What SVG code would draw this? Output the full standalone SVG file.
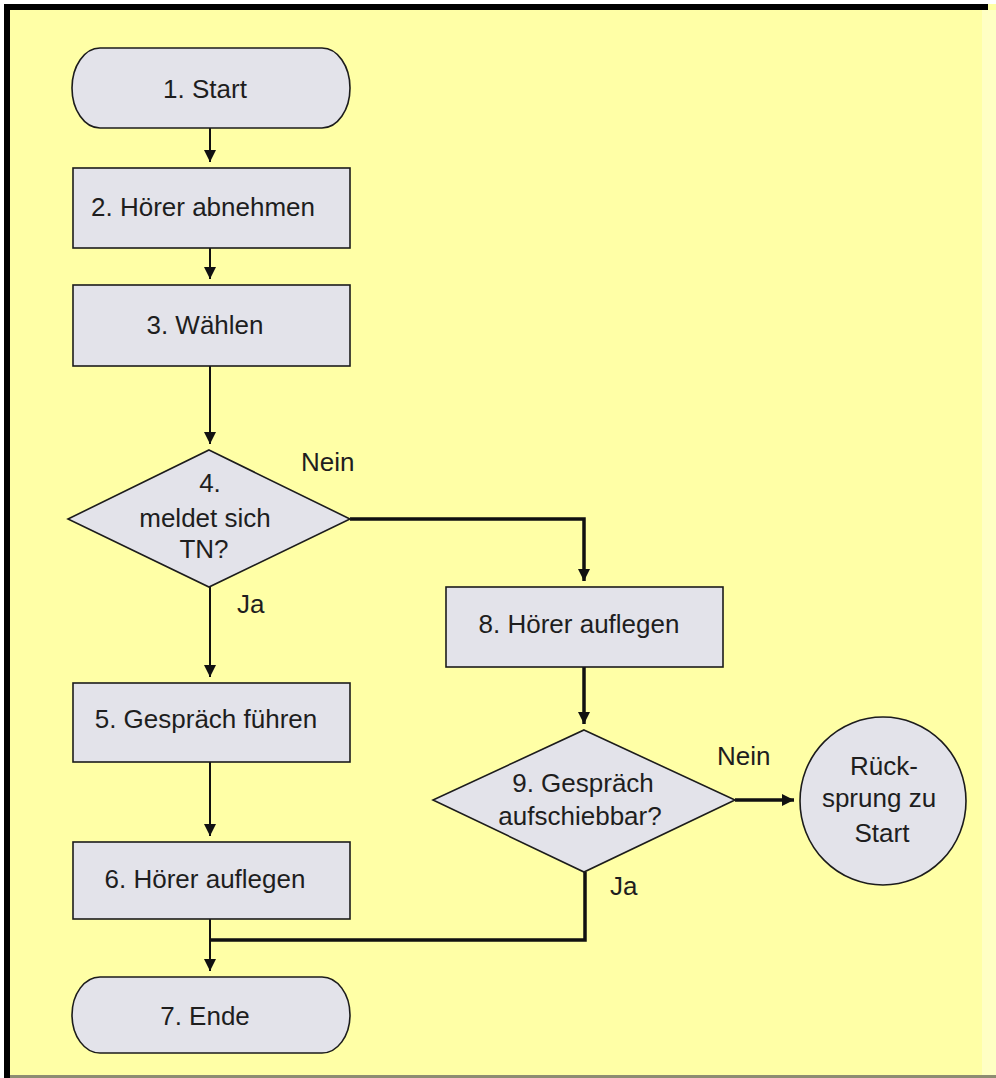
<svg xmlns="http://www.w3.org/2000/svg" width="996" height="1078" viewBox="0 0 996 1078">
  <style>
    .shape { fill: #e3e3ea; stroke: #1c1c1c; stroke-width: 1.6; }
    .lbl { font-family: "Liberation Sans", Arial, sans-serif; font-size: 26px; fill: #1e1e1e; text-anchor: middle; }
    .side { font-family: "Liberation Sans", Arial, sans-serif; font-size: 26px; fill: #1e1e1e; }
    .thin { fill: none; stroke: #111; stroke-width: 2; }
    .thick { fill: none; stroke: #111; stroke-width: 3.5; }
  </style>
  <defs>
    <marker id="arrow" viewBox="0 0 12 12" refX="12" refY="6" markerWidth="12" markerHeight="12" markerUnits="userSpaceOnUse" orient="auto">
      <path d="M0,0 L12,6 L0,12 z" fill="#111"/>
    </marker>
  </defs>

  <!-- page background and frame -->
  <rect x="0" y="0" width="996" height="1078" fill="#ffffff"/>
  <rect x="4" y="4" width="992" height="1074" fill="#ffffa6"/>
  <rect x="982" y="10" width="14" height="1066" fill="#ffffc4"/>
  <rect x="4" y="4" width="984" height="6" fill="#000"/>
  <rect x="4" y="4" width="6" height="1074" fill="#000"/>
  <rect x="10" y="1075" width="986" height="3" fill="#8d8d72"/>

  <!-- connectors -->
  <g id="connectors">
    <path class="thin" d="M210,128 V162" marker-end="url(#arrow)"/>
    <path class="thin" d="M210,248 V279" marker-end="url(#arrow)"/>
    <path class="thin" d="M210,366 V444" marker-end="url(#arrow)"/>
    <path class="thick" d="M350,519 H584 V581" marker-end="url(#arrow)"/>
    <path class="thin" d="M210,587 V677" marker-end="url(#arrow)"/>
    <path class="thin" d="M210,762 V836" marker-end="url(#arrow)"/>
    <path class="thin" d="M210,919 V971" marker-end="url(#arrow)"/>
    <path class="thick" d="M584,667 V724" marker-end="url(#arrow)"/>
    <path class="thick" d="M735,800 H794" marker-end="url(#arrow)"/>
    <path class="thick" d="M585,872 V940 H210"/>
    <text class="side" x="301" y="471">Nein</text>
    <text class="side" x="237" y="613">Ja</text>
    <text class="side" x="717" y="765">Nein</text>
    <text class="side" x="610" y="895">Ja</text>
  </g>

  <!-- 1. Start -->
  <g id="n1-start">
    <rect class="shape" x="72" y="48" width="278" height="80" rx="28" ry="40"/>
    <text class="lbl" x="205" y="98">1. Start</text>
  </g>

  <!-- 2. Hörer abnehmen -->
  <g id="n2-abnehmen">
    <rect class="shape" x="73" y="168" width="277" height="80"/>
    <text class="lbl" x="203" y="216">2. Hörer abnehmen</text>
  </g>

  <!-- 3. Wählen -->
  <g id="n3-waehlen">
    <rect class="shape" x="73" y="285" width="277" height="81"/>
    <text class="lbl" x="205" y="334">3. Wählen</text>
  </g>

  <!-- 4. decision -->
  <g id="n4-meldet">
    <polygon class="shape" points="209,450 350,519 209,587 68,519"/>
    <text class="lbl" x="210" y="492">4.</text>
    <text class="lbl" x="205" y="527">meldet sich</text>
    <text class="lbl" x="204" y="558">TN?</text>
  </g>

  <!-- 5. Gespräch führen -->
  <g id="n5-gespraech">
    <rect class="shape" x="73" y="683" width="277" height="79"/>
    <text class="lbl" x="206" y="728">5. Gespräch führen</text>
  </g>

  <!-- 6. Hörer auflegen -->
  <g id="n6-auflegen">
    <rect class="shape" x="73" y="842" width="277" height="77"/>
    <text class="lbl" x="205" y="888">6. Hörer auflegen</text>
  </g>

  <!-- 7. Ende -->
  <g id="n7-ende">
    <rect class="shape" x="72" y="977" width="278" height="76" rx="28" ry="38"/>
    <text class="lbl" x="205" y="1025">7. Ende</text>
  </g>

  <!-- 8. Hörer auflegen -->
  <g id="n8-auflegen">
    <rect class="shape" x="446" y="587" width="277" height="80"/>
    <text class="lbl" x="579" y="633">8. Hörer auflegen</text>
  </g>

  <!-- 9. decision -->
  <g id="n9-aufschiebbar">
    <polygon class="shape" points="584,730 735,800 584,872 433,800"/>
    <text class="lbl" x="583" y="792">9. Gespräch</text>
    <text class="lbl" x="580" y="825">aufschiebbar?</text>
  </g>

  <!-- Rücksprung -->
  <g id="n10-ruecksprung">
    <ellipse class="shape" cx="883" cy="801" rx="83" ry="84"/>
    <text class="lbl" x="884" y="775">Rück-</text>
    <text class="lbl" x="879" y="807">sprung zu</text>
    <text class="lbl" x="882" y="842">Start</text>
  </g>
</svg>
